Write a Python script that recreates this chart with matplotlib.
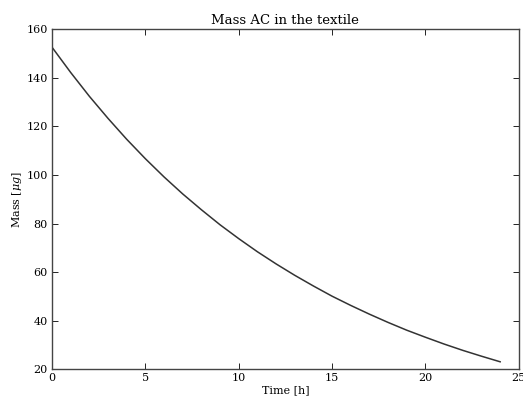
import matplotlib
matplotlib.use("Agg")
import matplotlib.pyplot as plt

time_h = list(range(0, 25))
mass_ug = [152.6, 142.2, 132.4, 123.3, 114.7, 106.7, 99.2, 92.2, 85.7, 79.5,
           73.8, 68.4, 63.4, 58.7, 54.3, 50.1, 46.3, 42.7, 39.3, 36.1,
           33.2, 30.4, 27.8, 25.4, 23.1]
xticks = [0, 5, 10, 15, 20, 25]
yticks = [20, 40, 60, 80, 100, 120, 140, 160]

plt.rcParams['font.family'] = ['DejaVu Serif']
plt.rcParams['mathtext.fontset'] = 'dejavuserif'

fig = plt.figure(figsize=(5.23, 3.99), dpi=100, facecolor='white')
ax = fig.add_axes([0.0995, 0.0744, 0.8925, 0.8522])
ax.plot(time_h, mass_ug, color='#333333', lw=1.1)
ax.set_xlim(0, 25)
ax.set_ylim(20, 160)
ax.set_xticks(xticks)
ax.set_yticks(yticks)
ax.tick_params(direction='in', top=True, right=True, labelsize=8, length=4, width=0.6, pad=3)
for s in ax.spines.values():
    s.set_linewidth(1.0)
    s.set_color('#444444')
ax.set_title('Mass AC in the textile', fontsize=9.5, pad=4)
ax.set_xlabel('Time [h]', fontsize=8, labelpad=1)
ax.set_ylabel('Mass [$\\mu g$]', fontsize=8, labelpad=2)
fig.savefig('out.png', dpi=100, facecolor='white')
